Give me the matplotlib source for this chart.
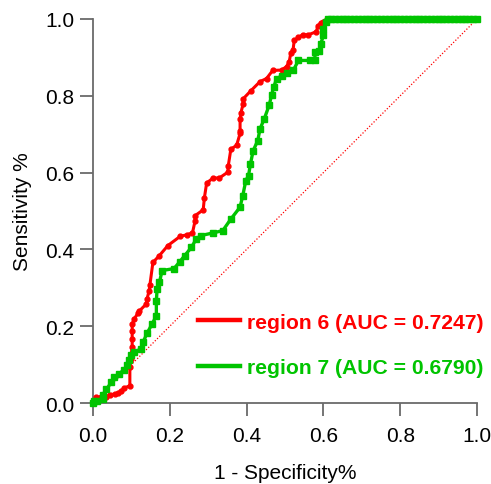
import matplotlib.pyplot as plt
from matplotlib.lines import Line2D
from matplotlib.ticker import FormatStrFormatter

plt.rcParams['font.family'] = ['Liberation Sans', 'DejaVu Sans']

#- ROC points
fpr_r6 = [0.0, 0.009, 0.022, 0.035, 0.043, 0.056, 0.065, 0.074, 0.081, 0.096,
          0.096, 0.098, 0.102, 0.102, 0.102, 0.102, 0.108, 0.117, 0.121, 0.139,
          0.141, 0.146, 0.148, 0.156, 0.173, 0.195, 0.227, 0.244, 0.259, 0.266,
          0.266, 0.287, 0.29, 0.296, 0.313, 0.329, 0.351, 0.352, 0.359, 0.374,
          0.383, 0.383, 0.383, 0.385, 0.391, 0.391, 0.411, 0.435, 0.452, 0.468,
          0.491, 0.504, 0.511, 0.515, 0.521, 0.524, 0.535, 0.546, 0.561, 0.582,
          0.585, 0.593, 0.6, 0.61, 0.65, 0.7, 0.74, 0.77, 0.82, 0.88, 0.94, 1.0]
tpr_r6 = [0.0, 0.015, 0.015, 0.016, 0.022, 0.023, 0.026, 0.032, 0.039, 0.045,
          0.093, 0.115, 0.145, 0.167, 0.188, 0.206, 0.22, 0.234, 0.24, 0.258,
          0.272, 0.292, 0.306, 0.366, 0.384, 0.41, 0.434, 0.438, 0.443, 0.475,
          0.488, 0.503, 0.534, 0.573, 0.586, 0.586, 0.601, 0.616, 0.661, 0.671,
          0.702, 0.709, 0.74, 0.755, 0.779, 0.792, 0.813, 0.837, 0.845, 0.866,
          0.867, 0.876, 0.889, 0.911, 0.92, 0.944, 0.952, 0.959, 0.959, 0.967,
          0.981, 0.99, 0.993, 1.0, 1.0, 1.0, 1.0, 1.0, 1.0, 1.0, 1.0, 1.0]

fpr_r7 = [0.0, 0.003, 0.011, 0.026, 0.026, 0.035, 0.048, 0.055, 0.067, 0.081,
          0.089, 0.094, 0.098, 0.108, 0.124, 0.13, 0.141, 0.154, 0.165, 0.165,
          0.167, 0.173, 0.18, 0.211, 0.226, 0.239, 0.256, 0.269, 0.281, 0.313,
          0.338, 0.359, 0.383, 0.39, 0.398, 0.405, 0.41, 0.417, 0.429, 0.435,
          0.446, 0.459, 0.465, 0.471, 0.478, 0.491, 0.504, 0.522, 0.535, 0.565,
          0.578, 0.578, 0.589, 0.593, 0.6, 0.6, 0.607, 0.613,
          0.62, 0.63, 0.64, 0.65, 0.66, 0.67, 0.68, 0.69, 0.70, 0.71, 0.72,
          0.73, 0.74, 0.75, 0.76, 0.77, 0.78, 0.79, 0.80, 0.81, 0.82, 0.83,
          0.84, 0.85, 0.86, 0.87, 0.88, 0.89, 0.90, 0.91, 0.92, 0.93, 0.94,
          0.95, 0.96, 0.97, 0.98, 0.99, 1.0]
tpr_r7 = [0.0, 0.004, 0.006, 0.01, 0.022, 0.036, 0.054, 0.067, 0.076, 0.086,
          0.099, 0.113, 0.124, 0.132, 0.141, 0.158, 0.182, 0.206, 0.227, 0.266,
          0.297, 0.314, 0.345, 0.35, 0.368, 0.384, 0.405, 0.427, 0.436, 0.443,
          0.449, 0.479, 0.51, 0.54, 0.579, 0.592, 0.622, 0.657, 0.683, 0.714,
          0.74, 0.776, 0.802, 0.824, 0.844, 0.852, 0.859, 0.867, 0.892, 0.892,
          0.892, 0.913, 0.917, 0.935, 0.957, 0.974, 0.993, 1.0,
          1.0, 1.0, 1.0, 1.0, 1.0, 1.0, 1.0, 1.0, 1.0, 1.0, 1.0,
          1.0, 1.0, 1.0, 1.0, 1.0, 1.0, 1.0, 1.0, 1.0, 1.0, 1.0,
          1.0, 1.0, 1.0, 1.0, 1.0, 1.0, 1.0, 1.0, 1.0, 1.0, 1.0,
          1.0, 1.0, 1.0, 1.0, 1.0, 1.0]

etiquetas = ['region 6 (AUC = 0.7247)', 'region 7 (AUC = 0.6790)']
rojo = '#ff0000'
verde = '#00c400'

fig = plt.figure(figsize=(4.91, 4.85), dpi=100)
ax = fig.add_axes([0.1894, 0.167, 0.7821, 0.7918])

#- diagonal de referencia
ax.plot([0, 1], [0, 1], ls=(0, (1, 1.5)), color=rojo, lw=0.9, clip_on=False)

ax.plot(fpr_r6, tpr_r6, color=rojo, lw=2.2, marker='o', ms=3.5, clip_on=False, zorder=3)
ax.plot(fpr_r7, tpr_r7, color=verde, lw=2.4, marker='s', ms=4.2, clip_on=False, zorder=4)

ax.set_xlim(0, 1)
ax.set_ylim(0, 1)
ax.set_xticks([0, 0.2, 0.4, 0.6, 0.8, 1.0])
ax.set_yticks([0, 0.2, 0.4, 0.6, 0.8, 1.0])
ax.xaxis.set_major_formatter(FormatStrFormatter('%.1f'))
ax.yaxis.set_major_formatter(FormatStrFormatter('%.1f'))

for lado in ['top', 'right']:
    ax.spines[lado].set_visible(False)
for lado in ['left', 'bottom']:
    ax.spines[lado].set_color('#6a6a6a')
    ax.spines[lado].set_linewidth(1.3)
ax.tick_params(direction='out', length=9.5, width=1.3, color='#6a6a6a',
               labelsize=15, labelcolor='black')
ax.tick_params(axis='x', pad=7)
ax.tick_params(axis='y', pad=4)

ax.set_xlabel('1 - Specificity%', fontsize=15, labelpad=13)
ax.set_ylabel('Sensitivity %', fontsize=15, labelpad=9)

manejadores = [Line2D([], [], color=rojo, lw=3.2), Line2D([], [], color=verde, lw=3.2)]
ley = ax.legend(manejadores, etiquetas, loc='lower right', bbox_to_anchor=(1.016, 0.068),
                frameon=False, borderaxespad=0, borderpad=0, handlelength=2.0,
                handletextpad=0.3, labelspacing=1.25, prop={'size': 15.2, 'weight': 'bold'})
for texto, col in zip(ley.get_texts(), [rojo, verde]):
    texto.set_color(col)

plt.savefig('out.png', dpi=100)
